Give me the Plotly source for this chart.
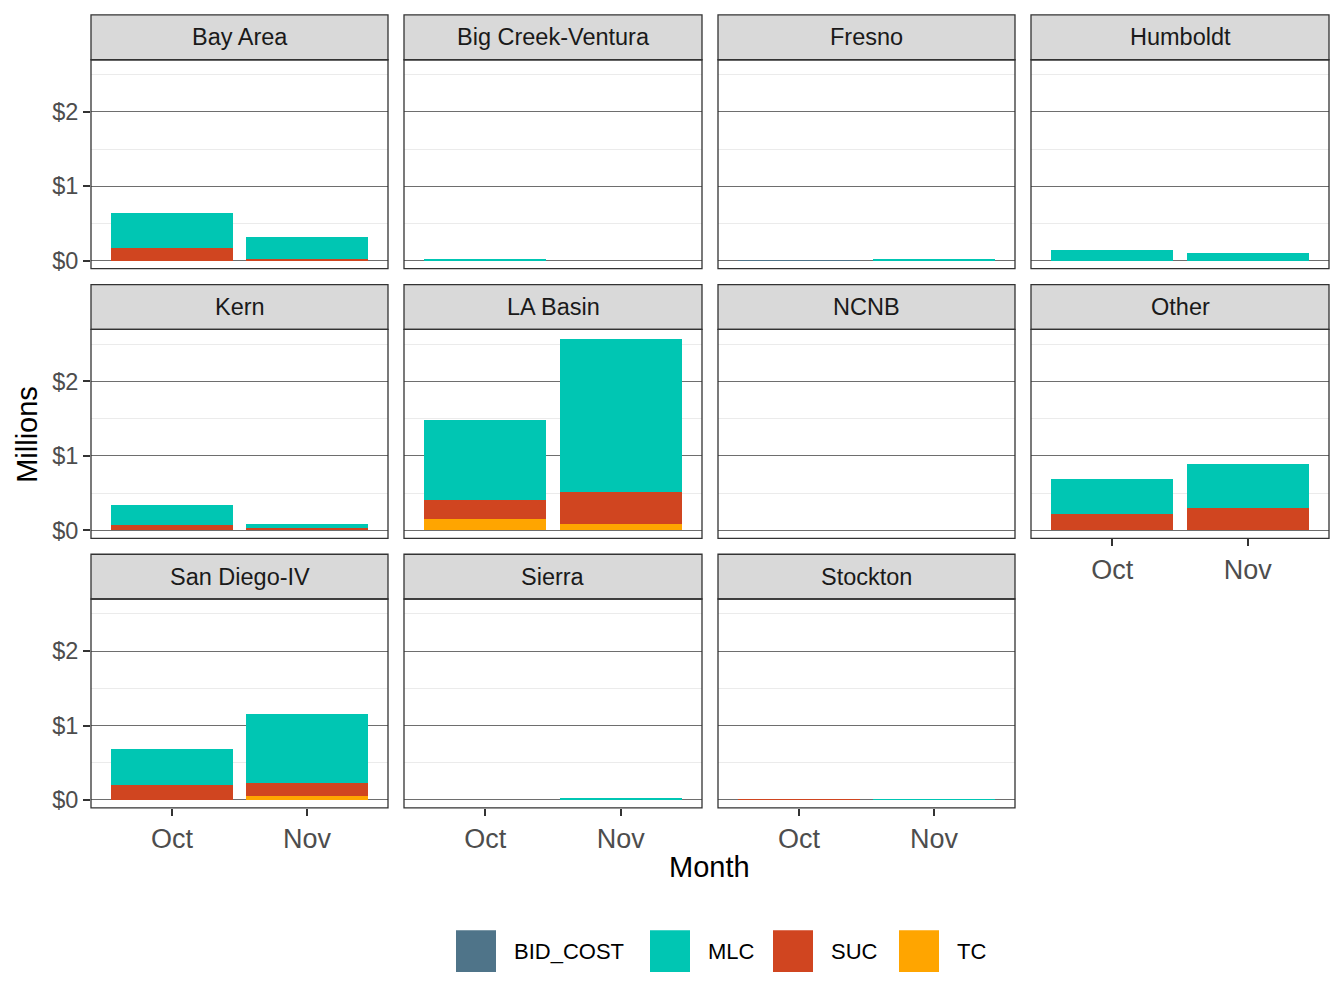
import plotly.graph_objects as go

# Facet regions in display order (facet_wrap, 4 columns)
regions = [
    "Bay Area", "Big Creek-Ventura", "Fresno", "Humboldt",
    "Kern", "LA Basin", "NCNB", "Other",
    "San Diego-IV", "Sierra", "Stockton",
]
months = ["Oct", "Nov"]

# Cost components in millions of dollars, [Oct, Nov] per region
tc = [
    [0.005, 0.005], [0.0, 0.0], [0.0, 0.0], [0.0, 0.0],
    [0.0, 0.0], [0.147, 0.08], [0.0, 0.0], [0.0, 0.0],
    [0.0, 0.05], [0.0, 0.0], [0.0, 0.0],
]
suc = [
    [0.175, 0.025], [0.004, 0.0], [0.0, 0.0], [0.004, 0.0],
    [0.07, 0.02], [0.253, 0.43], [0.0, 0.0], [0.22, 0.30],
    [0.195, 0.175], [0.0, 0.0], [0.004, 0.0],
]
mlc = [
    [0.46, 0.285], [0.022, 0.0], [0.006, 0.025], [0.136, 0.10],
    [0.26, 0.054], [1.075, 2.05], [0.0, 0.0], [0.47, 0.59],
    [0.485, 0.925], [0.0, 0.02], [0.0, 0.003],
]
bid_cost = [
    [0.0, 0.0], [0.0, 0.0], [0.006, 0.0], [0.0, 0.0],
    [0.0, 0.0], [0.0, 0.0], [0.0, 0.0], [0.0, 0.0],
    [0.0, 0.0], [0.0, 0.0], [0.0, 0.0],
]

series = [("TC", tc), ("SUC", suc), ("MLC", mlc), ("BID_COST", bid_cost)]
colors = {"BID_COST": "#4F7489", "MLC": "#00C6B3", "SUC": "#D04520", "TC": "#FFA500"}
legend_order = ["BID_COST", "MLC", "SUC", "TC"]

# page body has an 8px margin, so the figure is placed 8px in from the window edge
OFF = 8
W, H = 1344 - OFF, 1008 - 2 * OFF
col_px = [(91, 388), (404, 702), (718, 1015), (1031, 1329)]
row_px = [(60, 270), (331, 541), (602, 812)]  # panel top/bottom (below strip)
strip_h = 45
font = "Liberation Sans"


def px(x):
    return (x - OFF) / W


def py(y):
    return 1 - (y - OFF) / H


fig = go.Figure()
shapes = []
annotations = []

for i, region in enumerate(regions):
    r, c = divmod(i, 4)
    n = "" if i == 0 else str(i + 1)
    x0, x1 = px(col_px[c][0]), px(col_px[c][1])
    y0, y1 = py(row_px[r][1]), py(row_px[r][0])
    bottom = (i + 4) >= len(regions)

    for name, vals in series:
        fig.add_trace(go.Bar(
            x=months, y=vals[i], name=name, marker_color=colors[name],
            marker_line_width=0, width=0.9, showlegend=False,
            xaxis="x" + n, yaxis="y" + n,
        ))

    fig.layout["xaxis" + n] = dict(
        domain=[x0, x1], anchor="y" + n, type="category",
        categoryorder="array", categoryarray=months, range=[-0.6, 1.6],
        showgrid=False, zeroline=False, showline=False,
        showticklabels=bottom, ticks="outside" if bottom else "",
        ticklen=7, tickwidth=2, tickcolor="#333333",
        tickfont=dict(family=font, size=27, color="#4D4D4D"),
    )
    fig.layout["yaxis" + n] = dict(
        domain=[y0, y1], anchor="x" + n, range=[-0.108, 2.70],
        tickvals=[0, 1, 2], ticktext=["$0", "$1", "$2"],
        showticklabels=(c == 0), ticks="outside" if c == 0 else "",
        ticklen=7, tickwidth=2, tickcolor="#333333",
        tickfont=dict(family=font, size=23.5, color="#4D4D4D"),
        showgrid=True, gridcolor="#6E6E6E", gridwidth=0.8,
        minor=dict(tickvals=[0.5, 1.5, 2.5], showgrid=True, gridcolor="#EBEBEB", gridwidth=1),
        zeroline=False, showline=False,
    )

    # panel border
    shapes.append(dict(type="rect", xref="paper", yref="paper", x0=x0, x1=x1, y0=y0, y1=y1,
                       line=dict(color="#333333", width=1.3), fillcolor="rgba(0,0,0,0)", layer="above"))
    # strip
    sy1 = py(row_px[r][0] - strip_h)
    shapes.append(dict(type="rect", xref="paper", yref="paper", x0=x0, x1=x1, y0=y1, y1=sy1,
                       line=dict(color="#333333", width=1.3), fillcolor="#D9D9D9", layer="below"))
    annotations.append(dict(text=region, xref="paper", yref="paper", x=(x0 + x1) / 2, y=(y1 + sy1) / 2,
                            showarrow=False, xanchor="center", yanchor="middle",
                            font=dict(family=font, size=23.5, color="#1A1A1A")))

# axis titles
annotations.append(dict(text="Month", xref="paper", yref="paper", x=px(710), y=py(871),
                        showarrow=False, xanchor="center", yanchor="middle",
                        font=dict(family=font, size=29, color="black")))
annotations.append(dict(text="Millions", xref="paper", yref="paper", x=px(27), y=py(437),
                        showarrow=False, textangle=-90, xanchor="center", yanchor="middle",
                        font=dict(family=font, size=29, color="black")))

# legend keys (bottom, horizontal)
key_x = [456, 650, 773, 899]
for name, kx in zip(legend_order, key_x):
    shapes.append(dict(type="rect", xref="paper", yref="paper",
                       x0=px(kx), x1=px(kx + 40), y0=py(977), y1=py(935),
                       line=dict(width=0), fillcolor=colors[name]))
    annotations.append(dict(text=name, xref="paper", yref="paper", x=px(kx + 56), y=py(956),
                            showarrow=False, xanchor="left", yanchor="middle",
                            font=dict(family=font, size=22, color="black")))

fig.update_layout(
    width=W, height=H,
    margin=dict(l=0, r=0, t=0, b=0),
    barmode="stack", bargap=0,
    plot_bgcolor="white", paper_bgcolor="white",
    shapes=shapes, annotations=annotations,
    showlegend=False,
)

fig.write_html("out.html")
